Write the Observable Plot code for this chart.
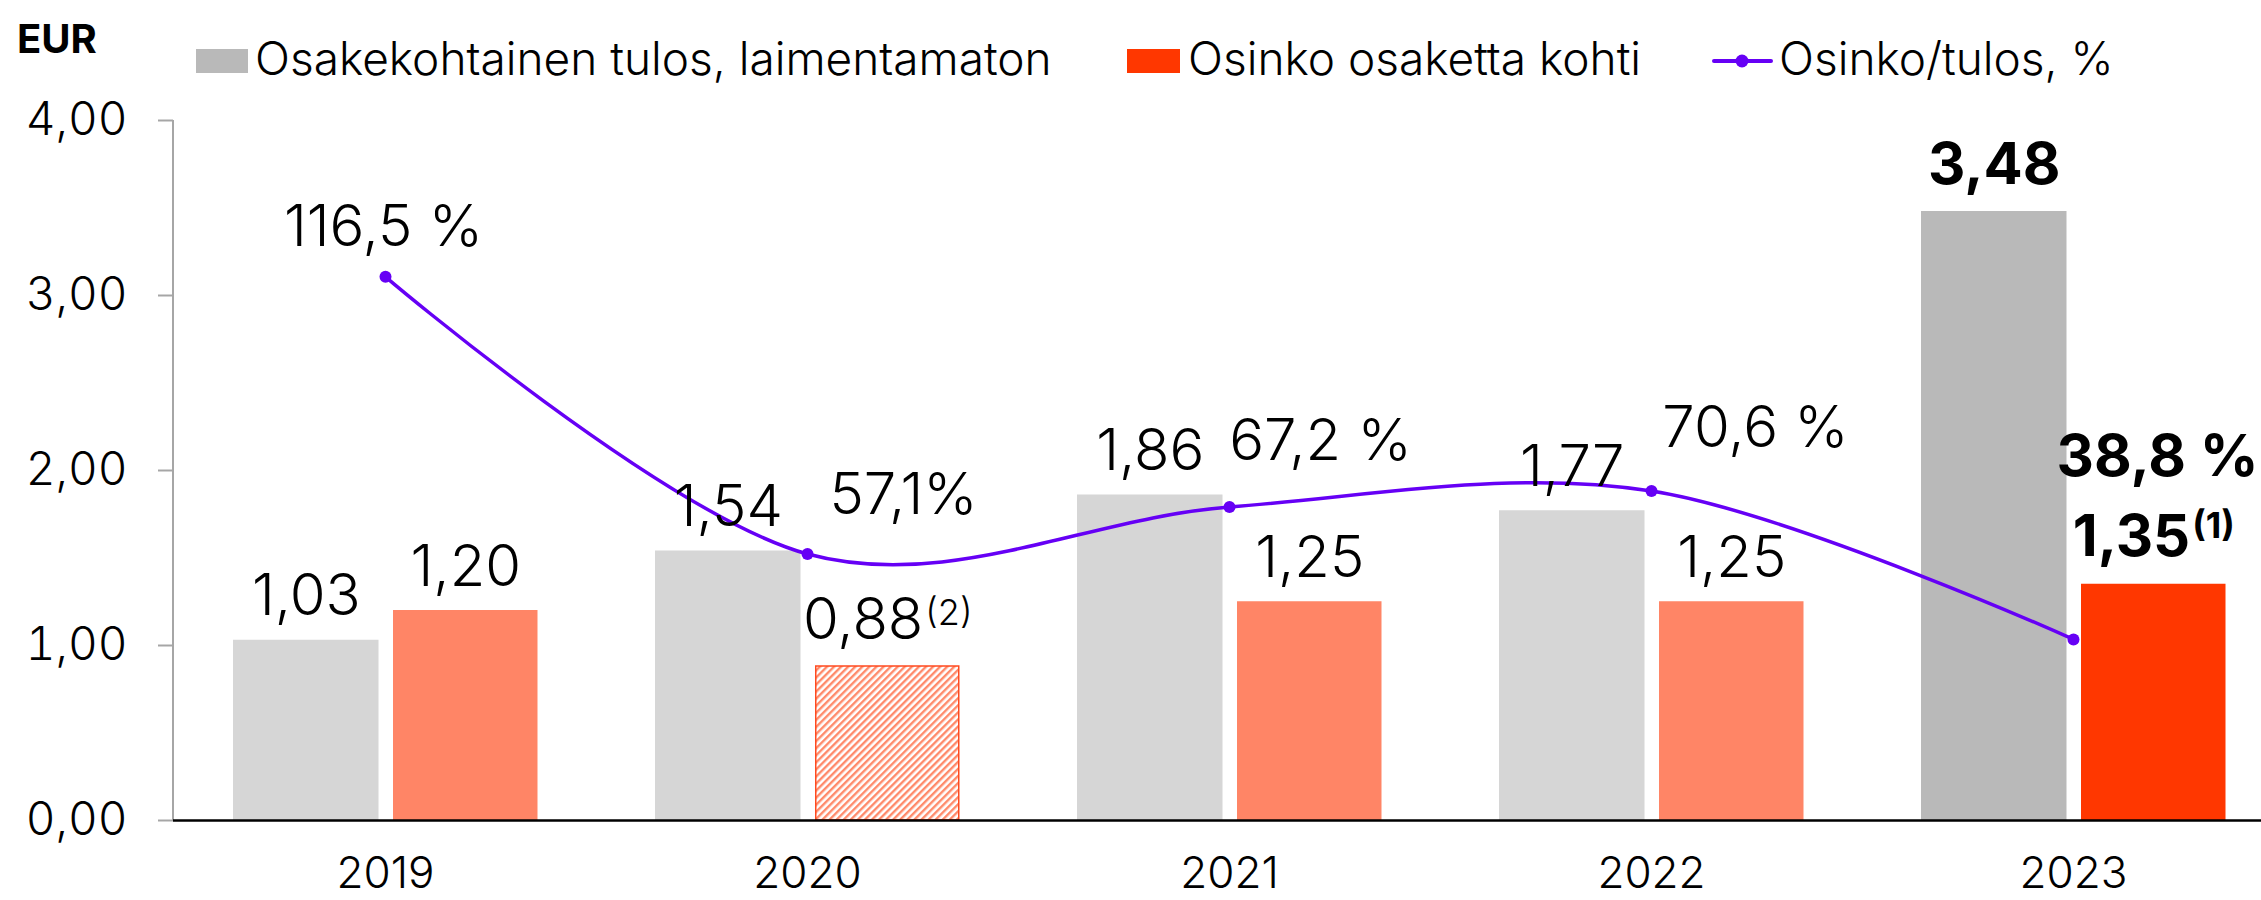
<!DOCTYPE html>
<html><head><meta charset="utf-8">
<script src="https://cdn.jsdelivr.net/npm/d3@7"></script>
<script src="https://cdn.jsdelivr.net/npm/@observablehq/plot@0.6"></script>
<style>
html,body{margin:0;padding:0;background:#fff;}
#chart{width:2261px;height:900px;position:relative;overflow:hidden;font-family:Inter,sans-serif;}
svg{display:block;}
#head{position:absolute;left:0;top:0;}
</style></head><body><div id="chart"></div>
<script>
// ---- data ----
const years = ["2019", "2020", "2021", "2022", "2023"];
const eps = [1.03, 1.54, 1.86, 1.77, 3.48];
const dividend = [1.20, 0.88, 1.25, 1.25, 1.35];
const payout = [116.5, 57.1, 67.2, 70.6, 38.8];
const epsLabels = ["1,03", "1,54", "1,86", "1,77", "3,48"];
const dividendLabels = ["1,20", "0,88", "1,25", "1,25", "1,35"];
const dividendNotes = ["", "(2)", "", "", "(1)"];
const payoutLabels = ["116,5 %", "57,1%", "67,2 %", "70,6 %", "38,8 %"];
const yTicks = [0, 1, 2, 3, 4];
const seriesNames = ["Osakekohtainen tulos, laimentamaton", "Osinko osaketta kohti", "Osinko/tulos, %"];
const unitLabel = "EUR";
const highlightYear = "2023";
const hatchedYear = "2020";
const payoutAxisMax = 150; // hidden secondary axis: 0 % … 150 %
const yAxisMax = 4;

// ---- styles ----
const FONT = "Inter, 'Noto Sans', sans-serif";
const C = {
  eps: "#d6d6d6", epsHi: "#b9b9b9",
  div: "#ff8566", divHi: "#ff3700", hatchLine: "#ff8a6a", hatchStroke: "#ff4a1f",
  line: "#6600f5", axis: "#a6a6a6"
};
const W = 2261, HEAD = 100, H = 900;
const bandStart = 173, bandW = 422.5;
const epsInset = [59, 217.5], divInset = [219, 58.5];
const epsCenter = (epsInset[0] + (bandW - epsInset[1])) / 2 - bandW / 2;
const divCenter = (divInset[0] + (bandW - divInset[1])) / 2 - bandW / 2;
const pctOffset = {"2019": [-2, -31], "2020": [96, -40], "2021": [91, -47], "2022": [104, -44], "2023": [84, -163]};
const valueSize = 58, noteSize = 36, tickSize = 46, xTickSize = 44, legendSize = 46;
const LW = 300; // light text weight

const rows = years.map((year, i) => ({
  year, eps: eps[i], div: dividend[i], pct: payout[i],
  epsLabel: epsLabels[i], divLabel: dividendLabels[i], note: dividendNotes[i], pctLabel: payoutLabels[i]
}));
const pctY = d => d.pct / payoutAxisMax * yAxisMax;

// measure text for superscript placement
const ctx = document.createElement("canvas").getContext("2d");
function tw(s, size, weight) { ctx.font = `${weight} ${size}px ${FONT}`; return ctx.measureText(s).width; }
rows.forEach(d => {
  const w8 = d.year === highlightYear ? 700 : LW;
  if (d.note) {
    const a = tw(d.divLabel, valueSize, w8), b = tw(d.note, noteSize, w8), gap = 2;
    const tot = a + gap + b;
    d.mainDx = divCenter - tot / 2 + a;
    d.noteDx = d.mainDx + gap;
  }
});

const root = d3.select("#chart");

// ---- plot ----
const fmt = d => d.toFixed(2).replace(".", ",");
const hi = d => d.year === highlightYear;

// left axis line as a render-function mark
const yAxisLine = (index, scales, values, dims) => d3.create("svg:line")
  .attr("x1", dims.marginLeft).attr("x2", dims.marginLeft)
  .attr("y1", scales.y(0)).attr("y2", scales.y(yAxisMax))
  .attr("stroke", C.axis).attr("stroke-width", 2).node();

const plot = Plot.plot({
  width: W, height: H,
  marginLeft: bandStart, marginRight: 0, marginTop: 120, marginBottom: 80,
  style: {fontFamily: FONT, background: "transparent"},
  x: {type: "band", domain: years, range: [bandStart, bandStart + bandW * years.length], padding: 0},
  y: {domain: [0, yAxisMax]},
  color: {type: "identity"},
  marks: [
    Plot.axisY(yTicks, {tickSize: 15, tickPadding: 31, tickFormat: fmt, fontSize: tickSize, fontWeight: LW, stroke: C.axis, strokeWidth: 2, fill: "#000", label: null}),
    yAxisLine,
    Plot.axisX({tickSize: 0, tickPadding: 36, fontSize: xTickSize, fontWeight: LW, fill: "#000", label: null}),
    Plot.barY(rows, {x: "year", y: "eps", fill: d => hi(d) ? C.epsHi : C.eps, insetLeft: epsInset[0], insetRight: epsInset[1]}),
    Plot.barY(rows.filter(d => d.year !== hatchedYear), {x: "year", y: "div", fill: d => hi(d) ? C.divHi : C.div, insetLeft: divInset[0], insetRight: divInset[1]}),
    Plot.barY(rows.filter(d => d.year === hatchedYear), {x: "year", y: "div", fill: "url(#hatch)", stroke: C.hatchStroke, strokeWidth: 1.5, insetLeft: divInset[0] + 0.75, insetRight: divInset[1] + 0.75}),
    Plot.ruleY([0], {stroke: "#000", strokeWidth: 2.5}),
    Plot.line(rows, {x: "year", y: pctY, curve: "cardinal", stroke: C.line, strokeWidth: 3.5}),
    Plot.dot(rows, {x: "year", y: pctY, r: 6, fill: C.line, stroke: "none"}),
    // EPS labels
    Plot.text(rows.filter(d => !hi(d)), {x: "year", y: "eps", text: "epsLabel", dx: epsCenter, dy: -25, lineAnchor: "bottom", fontSize: valueSize, fontWeight: LW, fill: "#000"}),
    Plot.text(rows.filter(hi), {x: "year", y: "eps", text: "epsLabel", dx: epsCenter, dy: -28, lineAnchor: "bottom", fontSize: valueSize, fontWeight: 700, fill: "#000"}),
    // dividend labels (no note)
    Plot.text(rows.filter(d => !d.note), {x: "year", y: "div", text: "divLabel", dx: divCenter, dy: -25, lineAnchor: "bottom", fontSize: valueSize, fontWeight: LW, fill: "#000"}),
    // dividend labels with note
    ...rows.filter(d => d.note).flatMap(d => [
      Plot.text([d], {x: "year", y: "div", text: "divLabel", dx: d.mainDx, dy: -28, lineAnchor: "bottom", textAnchor: "end", fontSize: valueSize, fontWeight: hi(d) ? 700 : LW, fill: "#000"}),
      Plot.text([d], {x: "year", y: "div", text: "note", dx: d.noteDx, dy: hi(d) ? -46 : -42, lineAnchor: "bottom", textAnchor: "start", fontSize: noteSize, fontWeight: hi(d) ? 700 : LW, fill: "#000"})
    ]),
    // payout labels
    ...rows.map(d => Plot.text([d], {x: "year", y: pctY, text: "pctLabel", dx: pctOffset[d.year][0], dy: pctOffset[d.year][1], lineAnchor: "bottom", fontSize: valueSize, fontWeight: hi(d) ? 700 : LW, fill: "#000"}))
  ]
});

const defs = d3.select(plot).insert("defs", ":first-child");
const pat = defs.append("pattern").attr("id", "hatch").attr("patternUnits", "userSpaceOnUse")
  .attr("width", 5).attr("height", 5).attr("patternTransform", "rotate(45)");
pat.append("rect").attr("width", 5).attr("height", 5).attr("fill", "#fff");
pat.append("rect").attr("width", 2.4).attr("height", 5).attr("fill", C.hatchLine);

root.node().appendChild(plot);

// ---- header (unit + legend), laid over the top margin of the plot ----
const head = root.append("svg").attr("id", "head").attr("width", W).attr("height", HEAD).style("font-family", FONT);
head.append("text").attr("x", 17).attr("y", 53).attr("font-size", 40).attr("font-weight", 700).text(unitLabel);
head.append("rect").attr("x", 196).attr("y", 49).attr("width", 52).attr("height", 24).attr("fill", C.epsHi);
head.append("text").attr("x", 255).attr("y", 75).attr("font-size", legendSize).attr("font-weight", LW).text(seriesNames[0]);
head.append("rect").attr("x", 1127).attr("y", 49).attr("width", 53).attr("height", 24).attr("fill", C.divHi);
head.append("text").attr("x", 1188).attr("y", 75).attr("font-size", legendSize).attr("font-weight", LW).text(seriesNames[1]);
head.append("line").attr("x1", 1714).attr("x2", 1771).attr("y1", 61).attr("y2", 61).attr("stroke", C.line).attr("stroke-width", 4).attr("stroke-linecap", "round");
head.append("circle").attr("cx", 1742).attr("cy", 61).attr("r", 6.5).attr("fill", C.line);
head.append("text").attr("x", 1779).attr("y", 75).attr("font-size", legendSize).attr("font-weight", LW).text(seriesNames[2]);
</script></body></html>
